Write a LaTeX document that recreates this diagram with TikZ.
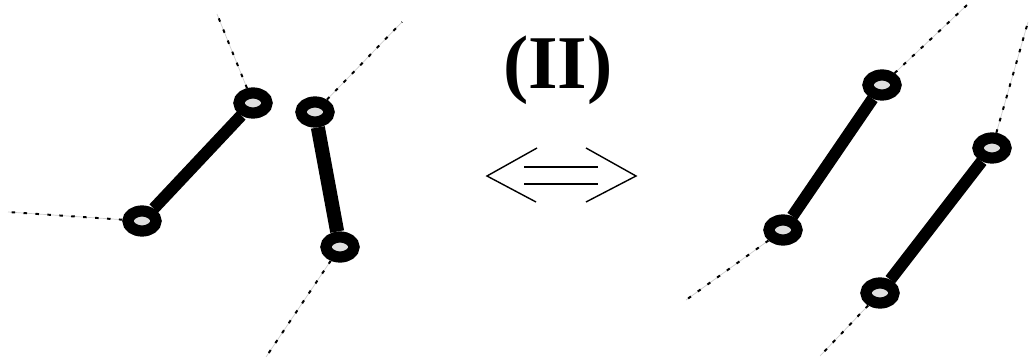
\documentclass[tikz,border=0pt]{standalone}
\usepackage{fontspec}
\setmainfont{Liberation Serif}
\usetikzlibrary{calc,shapes.geometric}

\begin{document}
\begin{tikzpicture}[x=0.025cm,y=-0.025cm,
  ring/.style={ellipse,draw,line width=8pt,fill=gray!25,inner sep=0pt,
    minimum width=0.7cm,minimum height=0.5cm},
  rod/.style={line width=8.5pt},
  tether/.style={gray!40,line width=0.5pt,
    postaction={draw=black,line width=1.4pt,dash pattern=on 2.5pt off 6pt}},
  thin/.style={line width=1pt}]
  \useasboundingbox (0,0) rectangle (1030,360);
  % left configuration
  \node[ring] (la) at (142,221) {};
  \node[ring] (lb) at (253,103) {};
  \node[ring] (lc) at (315,112) {};
  \node[ring] (ld) at (340,247) {};
  \coordinate (ta) at (8,212);
  \coordinate (tb) at (217,14);
  \coordinate (tc) at (402,22);
  \coordinate (td) at (266,357);
  \draw[rod] (la)--(lb); \draw[rod,line width=10pt] (lc)--(ld);
  \draw[tether] (la)--(ta); \draw[tether] (lb)--(tb);
  \draw[tether] (lc)--(tc); \draw[tether] (ld)--(td);
  % label and double arrow
  \node[font=\bfseries\fontsize{54}{64}\selectfont] (lbl) at (558,70) {(II)};
  \coordinate (al) at (487,176); \coordinate (ar) at (636,176);
  \draw[thin] (537,148)--(al)--(536,202);
  \draw[thin] (586,148)--(ar)--(586,202);
  \draw[thin] (524,167)--(598,167);
  \draw[thin] (524,184)--(598,184);
  % right configuration
  \node[ring] (ra) at (783,230) {};
  \node[ring] (rb) at (882,85) {};
  \node[ring] (rc) at (880,293) {};
  \node[ring] (rd) at (992,148) {};
  \coordinate (sa) at (686,300);
  \coordinate (sb) at (967,5);
  \coordinate (sc) at (820,356);
  \coordinate (sd) at (1028,22);
  \draw[rod] (ra)--(rb); \draw[rod] (rc)--(rd);
  \draw[tether] (ra)--(sa); \draw[tether] (rb)--(sb);
  \draw[tether] (rc)--(sc); \draw[tether] (rd)--(sd);
\end{tikzpicture}
\end{document}
